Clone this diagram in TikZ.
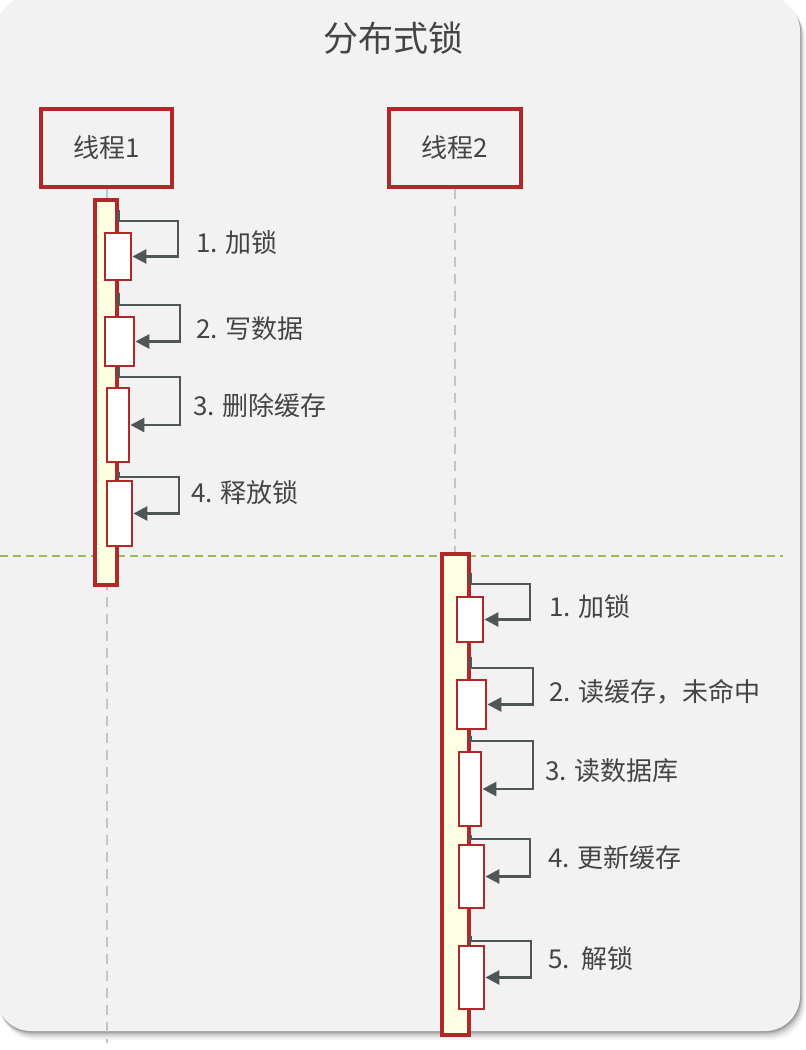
\documentclass[tikz,border=0pt]{standalone}
\usepackage{fontspec}
\setmainfont{Noto Sans CJK SC}
\usetikzlibrary{arrows.meta}
\definecolor{panel}{HTML}{F2F2F2}
\definecolor{redc}{HTML}{B22828}
\definecolor{arr}{HTML}{4E5656}
\definecolor{life}{HTML}{C4C4C4}
\definecolor{ivory}{HTML}{FFFFE3}
\definecolor{grn}{HTML}{9BBB59}
\definecolor{txt}{HTML}{444444}
\begin{document}
\begin{tikzpicture}[x=1pt,y=-1pt,
  thread/.style={draw=redc, line width=3.2pt, fill=panel, inner sep=0, text=txt, font=\fontsize{26}{30}\selectfont},
  bar/.style={draw=redc, line width=3.2pt, fill=ivory, inner sep=0},
  act/.style={draw=redc, line width=2.8pt, fill=white, inner sep=0},
  call/.style={draw=arr, line width=2.7pt, -{Triangle[length=14pt,width=14pt]}},
  lbl/.style={anchor=west, inner sep=0, text=txt, font=\fontsize{26}{30}\selectfont},
  lifeline/.style={draw=life, line width=2pt, dash pattern=on 10pt off 7pt},
  sep/.style={draw=grn, line width=1.6pt, dash pattern=on 8pt off 5pt}]
\useasboundingbox (0,0) rectangle (806,1050);
% panel with shadow
\foreach \d/\o in {9/0.04,7/0.06,5/0.09,3/0.12,1.5/0.15}{
  \fill[black,opacity=\o,rounded corners=35] (-4+0.5*\d,-4+\d) rectangle (800+0.6*\d,1031+\d);
}
\fill[panel, rounded corners=35] (-4,-4) rectangle (800,1031);
% title
\node[text=txt, font=\fontsize{35}{40}\selectfont] (title) at (393,38) {分布式锁};
% separator
\coordinate (sepL) at (0,556);
\coordinate (sepR) at (783,556);
\draw[sep] (sepL) -- (sepR);
% threads
\node[thread, minimum width=131, minimum height=78] (t1) at (106.5,148) {线程1};
\node[thread, minimum width=132, minimum height=78] (t2) at (455,148) {线程2};
\draw[lifeline] (t1.south) -- (t1.south |- 0,1043);
\draw[lifeline] (t2.south) -- (t2.south |- 0,1030);
% activation bars
\node[bar, minimum width=22, minimum height=385] (b1) at (106,392.5) {};
\node[bar, minimum width=27, minimum height=481] (b2) at (455.5,794.5) {};
% thread 1 sub-activations
\node[act, minimum width=26, minimum height=47] (s11) at (118,256.5) {};
\node[act, minimum width=29, minimum height=49] (s12) at (119.5,341.5) {};
\node[act, minimum width=22, minimum height=74] (s13) at (118,425) {};
\node[act, minimum width=25, minimum height=65] (s14) at (119.5,513.5) {};
% thread 2 sub-activations
\node[act, minimum width=26, minimum height=45] (s21) at (470,619.5) {};
\node[act, minimum width=29, minimum height=49] (s22) at (471.5,704.5) {};
\node[act, minimum width=22, minimum height=74] (s23) at (470,789) {};
\node[act, minimum width=25, minimum height=63] (s24) at (471.5,876.5) {};
\node[act, minimum width=25, minimum height=63] (s25) at (471.5,977.5) {};
% self calls thread 1
\draw[call] (b1.east |- 0,210) -- (b1.east |- 0,221) -- (178,221) |- (s11.east);
\draw[call] (b1.east |- 0,293) -- (b1.east |- 0,305) -- (180,305) |- (s12.east);
\draw[call] (b1.east |- 0,366) -- (b1.east |- 0,377) -- (180,377) |- (s13.east);
\draw[call] (b1.east |- 0,472) -- (b1.east |- 0,477) -- (179,477) |- (s14.east);
% self calls thread 2
\draw[call] (b2.east |- 0,573) -- (b2.east |- 0,584) -- (530,584) |- (s21.east);
\draw[call] (b2.east |- 0,657) -- (b2.east |- 0,668) -- (533,668) |- (s22.east);
\draw[call] (b2.east |- 0,736) -- (b2.east |- 0,741) -- (533,741) |- (s23.east);
\draw[call] (b2.east |- 0,835) -- (b2.east |- 0,839) -- (530,839) |- (s24.east);
\draw[call] (b2.east |- 0,936) -- (b2.east |- 0,941) -- (531,941) |- (s25.east);
% labels
\node[lbl] (l11) at (196,243) {1. 加锁};
\node[lbl] (l12) at (196,329) {2. 写数据};
\node[lbl] (l13) at (193,406) {3. 删除缓存};
\node[lbl] (l14) at (191,493) {4. 释放锁};
\node[lbl] (l21) at (549,607) {1. 加锁};
\node[lbl] (l22) at (549,692) {2. 读缓存，未命中};
\node[lbl] (l23) at (545,771) {3. 读数据库};
\node[lbl] (l24) at (548,858) {4. 更新缓存};
\node[lbl] (l25) at (548,959) {5.\ \ 解锁};
\end{tikzpicture}
\end{document}
